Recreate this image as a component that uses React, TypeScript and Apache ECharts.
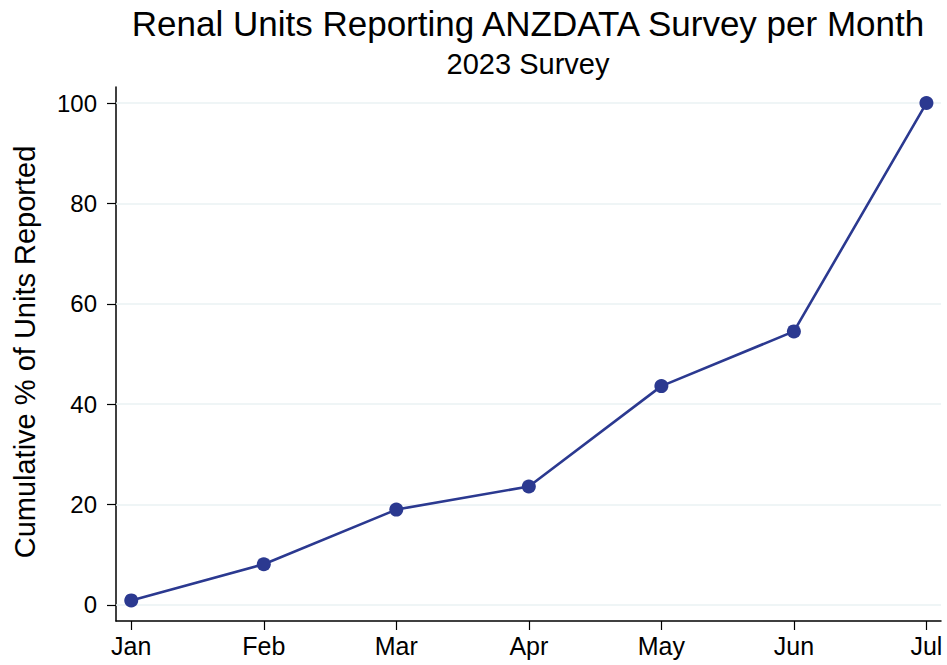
import React, { useEffect, useRef } from "react";
import * as echarts from "echarts";

const months = ["Jan", "Feb", "Mar", "Apr", "May", "Jun", "Jul"];
const cumulativePct = [0.9, 8.1, 19.0, 23.6, 43.6, 54.5, 100];
const yTicks = [0, 20, 40, 60, 80, 100];

const FONT = "'Liberation Sans', Arial, sans-serif";
const NAVY = "#2b3990";

export default function App() {
  const ref = useRef<HTMLDivElement>(null);
  useEffect(() => {
    if (!ref.current) return;
    const chart = echarts.init(ref.current, undefined, { renderer: "svg" });
    const data = cumulativePct.map((v, i) => [i, v]);
    chart.setOption({
      animation: false,
      backgroundColor: "#ffffff",
      textStyle: { fontFamily: FONT },
      grid: { left: 116, right: 6, top: 87, bottom: 44, containLabel: false },
      xAxis: {
        type: "value",
        min: -0.115,
        max: 6.11,
        axisLine: { show: true, onZero: false, lineStyle: { color: "#000", width: 1.5 } },
        axisTick: { show: true, length: 9, customValues: months.map((_, i) => i), lineStyle: { color: "#000", width: 1.2 } },
        axisLabel: {
          customValues: months.map((_, i) => i),
          formatter: (v: number) => months[Math.round(v)] ?? "",
          fontFamily: FONT,
          fontSize: 25,
          color: "#000",
          margin: 12,
        },
        splitLine: { show: false },
      },
      yAxis: {
        type: "value",
        min: -3.2,
        max: 103.2,
        axisLine: { show: true, onZero: false, lineStyle: { color: "#000", width: 1.5 } },
        axisTick: { show: true, length: 9, customValues: yTicks, lineStyle: { color: "#000", width: 1.2 } },
        axisLabel: {
          customValues: yTicks,
          fontFamily: FONT,
          fontSize: 24,
          color: "#000",
          margin: 19,
        },
        splitLine: { show: false },
      },
      graphic: [
        {
          type: "text",
          x: 528,
          y: 23,
          style: {
            text: "Renal Units Reporting ANZDATA Survey per Month",
            fontFamily: FONT,
            fontSize: 35,
            fill: "#000",
            textAlign: "center",
            textVerticalAlign: "middle",
          },
        },
        {
          type: "text",
          x: 528,
          y: 64,
          style: {
            text: "2023 Survey",
            fontFamily: FONT,
            fontSize: 29,
            fill: "#000",
            textAlign: "center",
            textVerticalAlign: "middle",
          },
        },
        {
          type: "text",
          x: 25,
          y: 352,
          rotation: Math.PI / 2,
          style: {
            text: "Cumulative % of Units Reported",
            fontFamily: FONT,
            fontSize: 29,
            fill: "#000",
            textAlign: "center",
            textVerticalAlign: "middle",
          },
        },
      ],
      series: [
        {
          type: "line",
          data,
          symbol: "circle",
          symbolSize: 14,
          itemStyle: { color: NAVY },
          lineStyle: { color: NAVY, width: 2.6 },
          z: 5,
          markLine: {
            silent: true,
            symbol: "none",
            label: { show: false },
            lineStyle: { color: "#eaf2f3", width: 1.5, type: "solid" },
            z: 1,
            data: yTicks.map((t) => ({ yAxis: t })),
          },
        },
      ],
    });
    return () => chart.dispose();
  }, []);
  return <div ref={ref} style={{ width: 947, height: 665, position: "absolute", left: 0, top: 0 }} />;
}
